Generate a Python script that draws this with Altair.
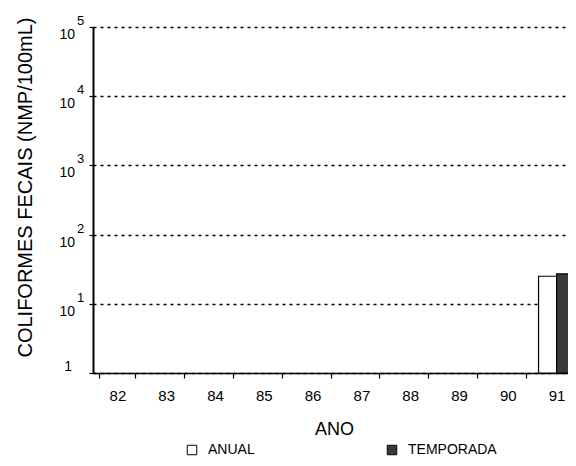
import altair as alt
import pandas as pd

# ---- data ----
years = ["82", "83", "84", "85", "86", "87", "88", "89", "90", "91"]
series = ["ANUAL", "TEMPORADA"]
anual = [None, None, None, None, None, None, None, None, None, 25]
temporada = [None, None, None, None, None, None, None, None, None, 27]

decades = [1, 10, 100, 1000, 10000, 100000]
mantissas = ["1", "10", "10", "10", "10", "10"]
exponents = ["", "1", "2", "3", "4", "5"]

FONT = "Liberation Sans"
W, H = 475, 346
XRANGE = 488  # category band extends slightly past the visible edge, as in the scan

rows = []
for i, yr in enumerate(years):
    if anual[i] is not None:
        rows.append({"ano": yr, "serie": "ANUAL", "v": anual[i]})
    if temporada[i] is not None:
        rows.append({"ano": yr, "serie": "TEMPORADA", "v": temporada[i]})
bars_df = pd.DataFrame(rows)

ten_df = pd.DataFrame({"v": decades[1:], "m": mantissas[1:], "e": exponents[1:]})
one_df = pd.DataFrame({"v": decades[:1], "m": mantissas[:1]})

yscale = alt.Scale(type="log", domain=[1, 100000], nice=False)
xscale = alt.Scale(domain=years, paddingInner=0.26, paddingOuter=0.13, range=[0, XRANGE])

bars = alt.Chart(bars_df).mark_bar(stroke="black", strokeWidth=1.2).encode(
    x=alt.X("ano:N", scale=xscale, sort=years,
            axis=alt.Axis(title="ANO", labelAngle=0, tickBand="extent",
                          titleX=241, titleY=56, titleBaseline="middle")),
    xOffset=alt.XOffset("serie:N", scale=alt.Scale(domain=series, paddingInner=0, paddingOuter=0)),
    y=alt.Y("v:Q", scale=yscale,
            axis=alt.Axis(title="COLIFORMES FECAIS (NMP/100mL)", values=decades,
                          labels=False, grid=True, titleAngle=270,
                          titleX=-68, titleY=160, titleBaseline="middle",
                          titleAlign="center", titleFontSize=20)),
    y2=alt.datum(decades[0]),
    color=alt.Color("serie:N", scale=alt.Scale(domain=series, range=["white", "#3a3a3a"]),
                    legend=alt.Legend(orient="none", legendX=92, legendY=416,
                                      direction="horizontal", title=None,
                                      symbolType="square", symbolSize=90,
                                      symbolStrokeColor="black", symbolStrokeWidth=1,
                                      labelFontSize=14, labelFont=FONT, labelColor="black",
                                      labelOffset=9, columnPadding=130)),
)

ten_m = alt.Chart(ten_df).mark_text(align="right", baseline="middle", dy=8,
                                    font=FONT, fontSize=14, color="black").encode(
    x=alt.value(-18), y=alt.Y("v:Q", scale=yscale), text="m:N")
ten_e = alt.Chart(ten_df).mark_text(align="left", baseline="middle", dy=-6,
                                    font=FONT, fontSize=13, color="black").encode(
    x=alt.value(-16), y=alt.Y("v:Q", scale=yscale), text="e:N")
one_m = alt.Chart(one_df).mark_text(align="right", baseline="middle", dy=-6,
                                    font=FONT, fontSize=14, color="black").encode(
    x=alt.value(-21), y=alt.Y("v:Q", scale=yscale), text="m:N")

chart = alt.layer(bars, ten_m, ten_e, one_m).properties(
    width=W, height=H,
    autosize=alt.AutoSizeParams(type="none"),
    padding={"left": 85, "top": 19, "right": 0, "bottom": 85},
).configure(font=FONT).configure_view(stroke=None).configure_axis(
    domainColor="black", tickColor="black", labelColor="black", titleColor="black",
    labelFont=FONT, titleFont=FONT, titleFontWeight="normal",
    gridColor="black", gridDash=[3, 4], gridWidth=1.3, gridOpacity=1,
).configure_axisX(
    domainWidth=1.6, tickSize=5, tickWidth=1.2, labelFontSize=15, labelPadding=10,
    titleFontSize=18, grid=False,
).configure_axisY(
    domainWidth=2, tickSize=4, tickWidth=1.2,
)

chart.save("out.html", embed_options={"renderer": "svg", "actions": False})
